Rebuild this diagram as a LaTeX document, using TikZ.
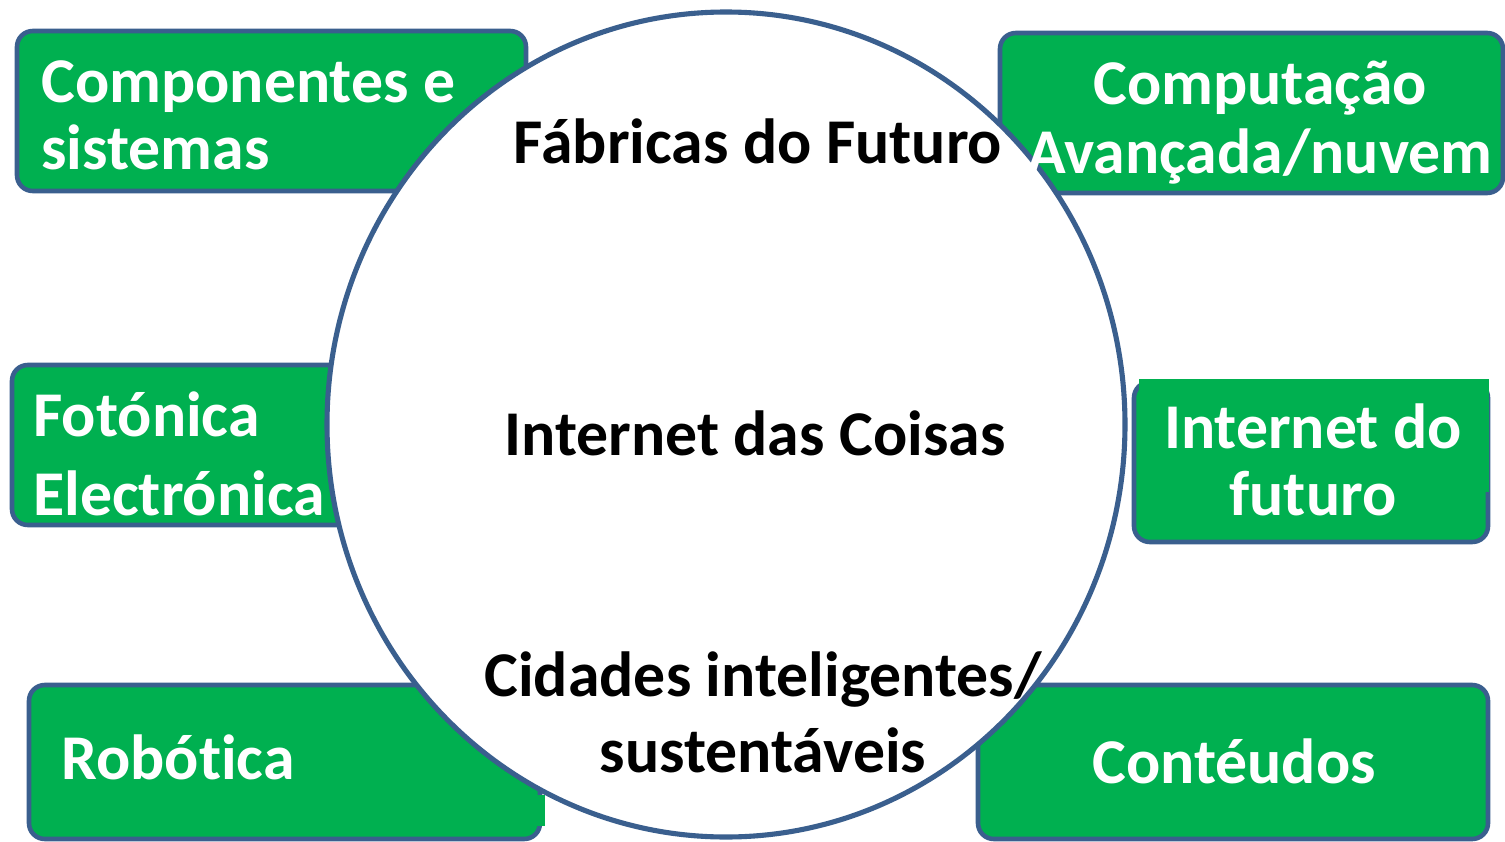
\documentclass[tikz,border=0pt]{standalone}
\usepackage{fontspec}
\setmainfont{Carlito}[RawFeature={-liga}]
\usetikzlibrary{shapes.geometric}
\definecolor{boxgreen}{HTML}{00B050}
\definecolor{edgeblue}{HTML}{3A5F8E}
\newcommand\ltwo[3]{\vtop{\baselineskip=#1\hbox{#2}\hbox{#3}}}
\newcommand\ctwo[3]{\vtop{\baselineskip=#1\halign{\hfil##\hfil\cr #2\cr #3\cr}}}
\begin{document}
\begin{tikzpicture}[x=0.02cm,y=-0.02cm,
  greenbox/.style={fill=boxgreen,draw=edgeblue,line width=2.6pt,rounded corners=9pt},
  patch/.style={fill=boxgreen,draw=none},
  ring/.style={fill=white,draw=edgeblue,line width=2.9pt},
  wtxt/.style={text=white,font=\fontsize{36.3}{40}\selectfont\bfseries,inner sep=0pt},
  btxt/.style={text=black,font=\fontsize{36.3}{40}\selectfont\bfseries,inner sep=0pt}]
\useasboundingbox (0,0) rectangle (1505,842);
\fill[white] (0,0) rectangle (1505,842);
% boxes
\draw[greenbox] (17,31) rectangle (526,191);
\draw[greenbox] (1000,33) rectangle (1503,193);
\draw[greenbox] (12,365) rectangle (400,525);
\draw[greenbox] (1134,382) rectangle (1488,542);
\draw[greenbox] (29,685) rectangle (540,839);
\draw[greenbox] (978,685) rectangle (1488,839);
% central disc
\node[ring,ellipse,minimum width=798*0.02cm,minimum height=825*0.02cm,inner sep=0pt] (disc) at (726,424.5) {};
% overlay patches
\fill[patch] (1139,379) rectangle (1489,492);
\fill[patch] (500,795) rectangle (545,826);
% box texts
\node[wtxt,anchor=base west] (t1) at (41,102) {\ltwo{38.5pt}{Componentes e}{sistemas}};
\node[wtxt,anchor=base] (t2) at (1260,104) {\ctwo{39.7pt}{Computação}{Avançada/nuvem}};
\node[wtxt,anchor=base west] (t3) at (33,436) {\ltwo{45.3pt}{Fotónica}{Electrónica}};
\node[wtxt,anchor=base] (t4) at (1313,448) {\ctwo{38.5pt}{Internet do}{futuro}};
\node[wtxt,anchor=base west] (t5) at (61,779) {Robótica};
\node[wtxt,anchor=base] (t6) at (1234,783) {Contéudos};
% central texts
\node[btxt,anchor=base] (c1) at (758,163) {Fábricas do Futuro};
\node[btxt,anchor=base] (c2) at (755,455) {Internet das Coisas};
\node[btxt,anchor=base] (c3) at (763,696) {\ctwo{43.6pt}{Cidades inteligentes/}{sustentáveis}};
\end{tikzpicture}
\end{document}
